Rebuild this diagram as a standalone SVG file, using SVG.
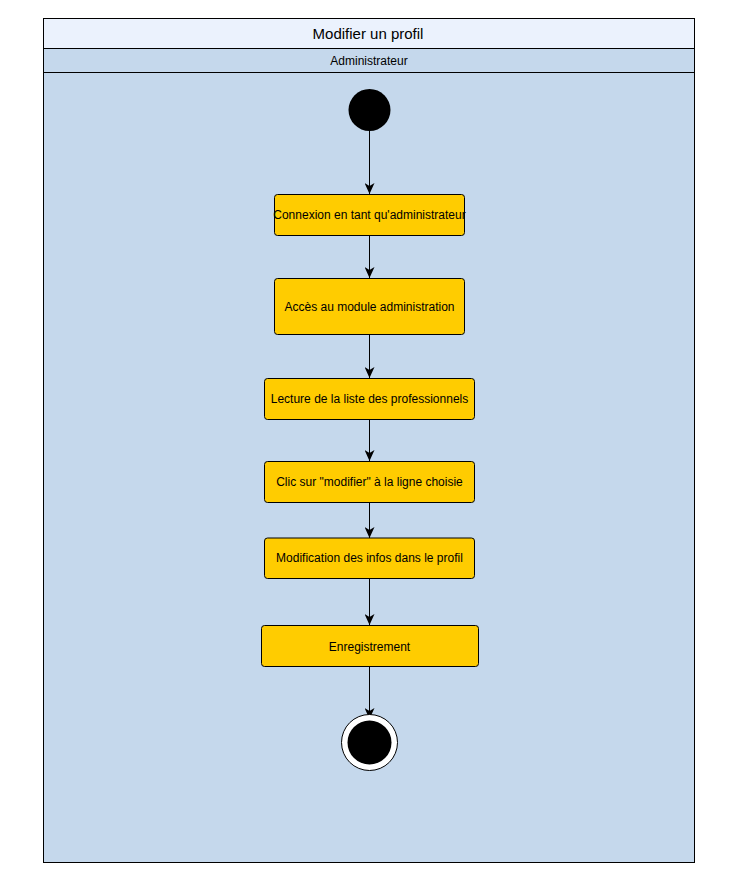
<svg xmlns="http://www.w3.org/2000/svg" width="735" height="891" viewBox="0 0 735 891">
<style>
.act{fill:#FFCC00;stroke:#000;stroke-width:1}
.t{font-family:"Liberation Sans",Arial,sans-serif;font-size:12px;fill:#000;text-anchor:middle;dominant-baseline:central}
.edge{stroke:#000;stroke-width:1;fill:none;marker-end:url(#arr)}
</style>
<defs>
<marker id="arr" markerWidth="12" markerHeight="10" viewBox="0 0 12 10" refX="11" refY="5" orient="auto" markerUnits="userSpaceOnUse">
<path d="M0,0 L11,5 L0,10 L3,5 Z" fill="#000"/>
</marker>
</defs>
<rect width="735" height="891" fill="#fff"/>
<g id="pool">
<rect x="43.5" y="18.5" width="651" height="30" fill="#EBF2FD" stroke="#000"/>
<text class="t" x="368" y="33.5" style="font-size:15px">Modifier un profil</text>
<rect x="43.5" y="48.5" width="651" height="24" fill="#C5D8EC" stroke="#000"/>
<text class="t" x="369" y="60.5">Administrateur</text>
<rect x="43.5" y="72.5" width="651" height="790" fill="#C5D8EC" stroke="#000"/>
</g>
<g id="connectors">
<path class="edge" d="M369.5,131 V194"/>
<path class="edge" d="M369.5,235 V278"/>
<path class="edge" d="M369.5,334 V378"/>
<path class="edge" d="M369.5,419 V461"/>
<path class="edge" d="M369.5,502 V538"/>
<path class="edge" d="M369.5,578 V625"/>
<path class="edge" d="M369.5,666 V719"/>
</g>
<g id="start"><circle cx="369.5" cy="110" r="21" fill="#000"/></g>
<g id="n1"><rect class="act" x="274.5" y="194.5" width="190" height="41" rx="3"/><text class="t" x="369.5" y="215">Connexion en tant qu'administrateur</text></g>
<g id="n2"><rect class="act" x="274.5" y="278.5" width="190" height="56" rx="3"/><text class="t" x="369.5" y="306.5">Accès au module administration</text></g>
<g id="n3"><rect class="act" x="264.5" y="378.5" width="210" height="41" rx="3"/><text class="t" x="369.5" y="399">Lecture de la liste des professionnels</text></g>
<g id="n4"><rect class="act" x="264.5" y="461.5" width="210" height="41" rx="3"/><text class="t" x="369.5" y="482">Clic sur "modifier" à la ligne choisie</text></g>
<g id="n5"><rect class="act" x="264.5" y="538" width="210" height="40.5" rx="3"/><text class="t" x="369.5" y="558">Modification des infos dans le profil</text></g>
<g id="n6"><rect class="act" x="261.5" y="625.5" width="217" height="41" rx="3"/><text class="t" x="369.5" y="646.5">Enregistrement</text></g>
<g id="end"><circle cx="369.5" cy="742.5" r="28" fill="#fff" stroke="#000"/><circle cx="369.5" cy="742.5" r="22" fill="#000"/></g>
</svg>
